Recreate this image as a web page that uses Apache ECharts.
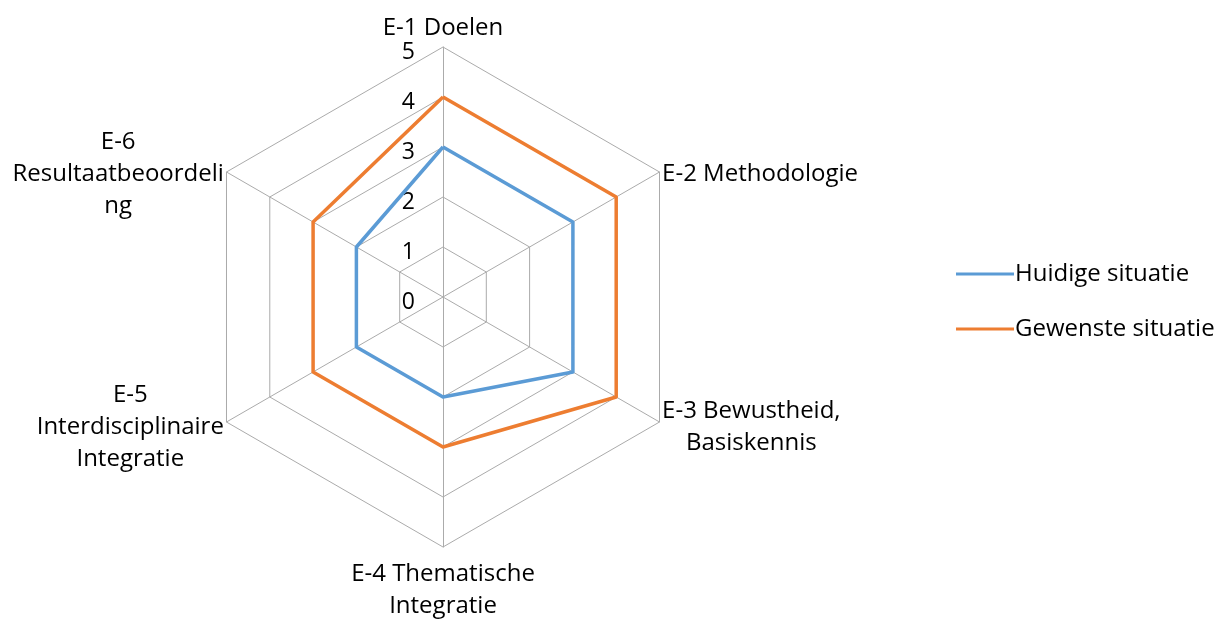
<!DOCTYPE html>
<html>
<head>
<meta charset="utf-8">
<script src="https://cdn.jsdelivr.net/npm/echarts@6/dist/echarts.min.js"></script>
<style>
  html, body { margin: 0; padding: 0; background: #fff; }
  #main { width: 1231px; height: 620px; }
</style>
</head>
<body>
<div id="main"></div>
<script>
// indicator names (multi-line as in the original), in clockwise order from the top
var indicators = [
    'E-1 Doelen',
    'E-2 Methodologie',
    'E-3 Bewustheid,\nBasiskennis',
    'E-4 Thematische\nIntegratie',
    'E-5\nInterdisciplinaire\nIntegratie',
    'E-6\nResultaatbeoordeli\nng'
];
var seriesNames = ['Huidige situatie', 'Gewenste situatie'];
var huidige = [3, 3, 3, 2, 2, 2];
var gewenste = [4, 4, 4, 3, 3, 3];
var maxValue = 5;

var font = '"Open Sans", sans-serif';
var fs = 24;
var center = [443, 297];
var radius = 250;

// echarts radar runs counter-clockwise, so flip the order (first stays on top)
function cw(arr) {
    return [arr[0]].concat(arr.slice(1).reverse());
}

var chart = echarts.init(document.getElementById('main'));

var option = {
    animation: false,
    backgroundColor: '#fff',
    legend: {
        orient: 'vertical',
        left: 951,
        top: 257,
        itemWidth: 58,
        itemHeight: 3,
        itemGap: 31,
        icon: 'rect',
        textStyle: { fontFamily: font, fontSize: 24, color: '#000', padding: [0, 0, 0, -4] },
        data: seriesNames
    },
    radar: {
        center: center,
        radius: radius,
        shape: 'polygon',
        splitNumber: 5,
        startAngle: 90,
        axisName: {
            color: '#000',
            fontFamily: font,
            fontSize: fs,
            lineHeight: 32,
            padding: [8, 0, 0, 0],
            formatter: function (name) {
                return name.split('\n').map(function (l) { return '{c|' + l + '}'; }).join('\n');
            },
            rich: {
                c: { align: 'center', fontFamily: font, fontSize: fs, lineHeight: 32, color: '#000' }
            }
        },
        nameGap: 3,
        axisLine: { lineStyle: { color: '#ababab', width: 1 } },
        splitLine: { lineStyle: { color: '#ababab', width: 1 } },
        splitArea: { show: false },
        indicator: cw(indicators).map(function (n) { return { name: n, min: 0, max: maxValue }; })
    },
    // polar system used only for the 0..5 tick labels along the top axis
    polar: { center: center, radius: radius },
    angleAxis: { startAngle: 90, show: false, min: 0, max: 360 },
    radiusAxis: {
        min: 0,
        max: maxValue,
        interval: 1,
        axisLine: { show: false },
        axisTick: { show: false },
        splitLine: { show: false },
        axisLabel: {
            margin: 28,
            formatter: '{t|{value}}',
            rich: { t: { fontFamily: font, fontSize: 23, color: '#000', padding: [10, 0, 0, 0] } }
        }
    },
    series: [
        {
            name: seriesNames[0],
            type: 'radar',
            symbol: 'none',
            color: '#5B9BD5',
            lineStyle: { width: 3.5, color: '#5B9BD5' },
            data: [{ value: cw(huidige), name: seriesNames[0] }]
        },
        {
            name: seriesNames[1],
            type: 'radar',
            symbol: 'none',
            color: '#ED7D31',
            lineStyle: { width: 3.5, color: '#ED7D31' },
            data: [{ value: cw(gewenste), name: seriesNames[1] }]
        }
    ]
};

chart.setOption(option);
</script>
</body>
</html>
